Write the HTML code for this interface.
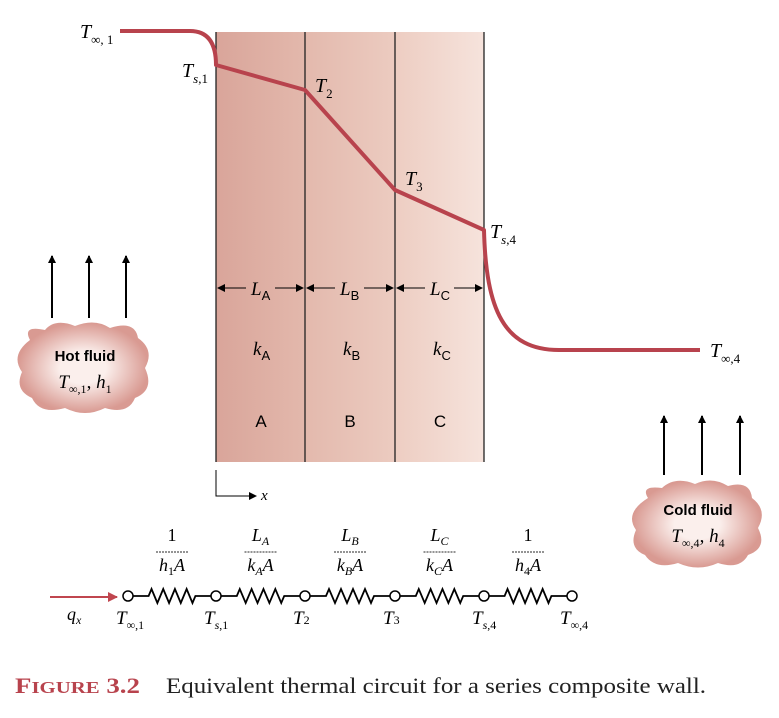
<!DOCTYPE html>
<html><head><meta charset="utf-8">
<style>
html,body{margin:0;padding:0;background:#fff;}
svg{display:block;}
.it{font-family:"Liberation Serif",serif;font-style:italic;}
.rm{font-family:"Liberation Serif",serif;}
.sn{font-family:"Liberation Sans",sans-serif;}
</style></head>
<body>
<svg id="fig" width="779" height="718" viewBox="0 0 779 718">
<defs>
<linearGradient id="gA" x1="0" x2="1"><stop offset="0" stop-color="#d9a59a"/><stop offset="1" stop-color="#e3b8ac"/></linearGradient>
<linearGradient id="gB" x1="0" x2="1"><stop offset="0" stop-color="#e3b9ad"/><stop offset="1" stop-color="#eccbc0"/></linearGradient>
<linearGradient id="gC" x1="0" x2="1"><stop offset="0" stop-color="#edcdc2"/><stop offset="1" stop-color="#f6e3dc"/></linearGradient>
<radialGradient id="cl"><stop offset="0.35" stop-color="#fbefec"/><stop offset="1" stop-color="#d99a92"/></radialGradient>
<marker id="ah" markerWidth="8" markerHeight="8" refX="7" refY="4" orient="auto" markerUnits="userSpaceOnUse"><path d="M0,0 L8,4 L0,8 z" fill="#000"/></marker>
<marker id="ahr" markerWidth="10" markerHeight="10" refX="9" refY="5" orient="auto" markerUnits="userSpaceOnUse"><path d="M0,0 L10,5 L0,10 z" fill="#c0464f"/></marker>
</defs>

<g>
<rect x="216" y="32" width="89" height="430" fill="url(#gA)"/>
<rect x="305" y="32" width="90" height="430" fill="url(#gB)"/>
<rect x="395" y="32" width="89" height="430" fill="url(#gC)"/>
<g stroke="#222" stroke-width="1.3">
<line x1="216" y1="32" x2="216" y2="462"/><line x1="305" y1="32" x2="305" y2="462"/>
<line x1="395" y1="32" x2="395" y2="462"/><line x1="484" y1="32" x2="484" y2="462"/>
</g>
</g>

<g stroke="#000" stroke-width="1">
<line x1="246" y1="288" x2="218" y2="288" marker-end="url(#ah)"/><line x1="275" y1="288" x2="303" y2="288" marker-end="url(#ah)"/>
<line x1="335" y1="288" x2="307" y2="288" marker-end="url(#ah)"/><line x1="364" y1="288" x2="393" y2="288" marker-end="url(#ah)"/>
<line x1="425" y1="288" x2="397" y2="288" marker-end="url(#ah)"/><line x1="454" y1="288" x2="482" y2="288" marker-end="url(#ah)"/>
</g>
<g font-size="19">
<text x="251" y="295" class="it">L<tspan class="sn" font-style="normal" font-size="13" dy="5">A</tspan></text>
<text x="340" y="295" class="it">L<tspan class="sn" font-style="normal" font-size="13" dy="5">B</tspan></text>
<text x="430" y="295" class="it">L<tspan class="sn" font-style="normal" font-size="13" dy="5">C</tspan></text>
<text x="253" y="355" class="it">k<tspan class="sn" font-style="normal" font-size="13" dy="5">A</tspan></text>
<text x="343" y="355" class="it">k<tspan class="sn" font-style="normal" font-size="13" dy="5">B</tspan></text>
<text x="433" y="355" class="it">k<tspan class="sn" font-style="normal" font-size="13" dy="5">C</tspan></text>
</g>
<g class="sn" font-size="17" text-anchor="middle">
<text x="261" y="427">A</text>
<text x="350" y="427">B</text>
<text x="440" y="427">C</text>
</g>

<g>
<path d="M216,470 V496 H256" fill="none" stroke="#000" stroke-width="1" marker-end="url(#ah)"/>
<text x="261" y="500" class="it" font-size="15">x</text>
</g>

<path id="profile" d="" fill="none" stroke="#b8434d" stroke-width="4" stroke-linejoin="round"/>

<g font-size="20" class="it">
<text x="80" y="38">T<tspan font-style="normal" font-size="13" dy="6">∞, 1</tspan></text>
<text x="182" y="77">T<tspan font-size="13" dy="6">s</tspan><tspan font-style="normal" font-size="13">,1</tspan></text>
<text x="315" y="92">T<tspan font-style="normal" font-size="13" dy="6">2</tspan></text>
<text x="405" y="185">T<tspan font-style="normal" font-size="13" dy="6">3</tspan></text>
<text x="490" y="238">T<tspan font-size="13" dy="6">s</tspan><tspan font-style="normal" font-size="13">,4</tspan></text>
<text x="710" y="357">T<tspan font-style="normal" font-size="13" dy="6">∞,4</tspan></text>
</g>

<g stroke="#000" stroke-width="2">
<line x1="52" y1="318" x2="52" y2="256" marker-end="url(#ah)"/>
<line x1="89" y1="318" x2="89" y2="256" marker-end="url(#ah)"/>
<line x1="126" y1="318" x2="126" y2="256" marker-end="url(#ah)"/>
</g>
<g stroke="#000" stroke-width="2">
<line x1="664" y1="475" x2="664" y2="416" marker-end="url(#ah)"/>
<line x1="702" y1="475" x2="702" y2="416" marker-end="url(#ah)"/>
<line x1="740" y1="475" x2="740" y2="416" marker-end="url(#ah)"/>
</g>

<g>
<path d="M30,340 Q22,325 45,330 Q55,318 75,326 Q95,318 110,328 Q135,320 138,338 Q155,350 145,368 Q155,390 135,398 Q128,415 105,408 Q85,418 65,408 Q40,415 32,398 Q14,390 22,372 Q10,355 30,340 Z" fill="url(#cl)"/>
<text x="85" y="361" class="sn" font-weight="bold" font-size="15" text-anchor="middle">Hot fluid</text>
<text x="85" y="388" class="it" font-size="19" text-anchor="middle">T<tspan font-style="normal" font-size="12" dy="5">∞,1</tspan><tspan dy="-5" font-style="normal">, </tspan><tspan>h</tspan><tspan font-style="normal" font-size="12" dy="5">1</tspan></text>
</g>
<g>
<path d="M648,498 Q640,485 662,488 Q675,476 695,484 Q712,476 728,486 Q750,480 752,498 Q768,510 758,528 Q768,548 748,555 Q740,570 718,563 Q698,572 678,563 Q655,570 645,555 Q628,548 636,530 Q624,513 648,498 Z" fill="url(#cl)"/>
<text x="698" y="515" class="sn" font-weight="bold" font-size="15" text-anchor="middle">Cold fluid</text>
<text x="698" y="542" class="it" font-size="19" text-anchor="middle">T<tspan font-style="normal" font-size="12" dy="5">∞,4</tspan><tspan dy="-5" font-style="normal">, </tspan><tspan>h</tspan><tspan font-style="normal" font-size="12" dy="5">4</tspan></text>
</g>

<g id="circuit"></g>
<g>
<line x1="50" y1="597" x2="117" y2="597" stroke="#c0464f" stroke-width="2" marker-end="url(#ahr)"/>
<text x="67" y="620" class="it" font-size="18">q<tspan font-size="12" dy="4">x</tspan></text>
</g>

<g font-family="'Liberation Serif',serif" font-size="22">
<text x="15" y="693" fill="#b8434d" font-weight="bold" textLength="125" lengthAdjust="spacingAndGlyphs">F<tspan font-size="17">IGURE</tspan> 3.2</text>
<text x="166" y="693" fill="#222" textLength="540" lengthAdjust="spacingAndGlyphs">Equivalent thermal circuit for a series composite wall.</text>
</g>
</svg>
<script>
// Temperature profile points (x in px along wall, y temperature position)
const profileX = [120, 216, 305, 395, 484, 700];
const profileY = [31, 65, 90, 190, 230, 350];

const p = document.getElementById('profile');
const d = `M${profileX[0]},${profileY[0]} H${profileX[1]-26} Q${profileX[1]},${profileY[0]} ${profileX[1]},${profileY[1]} L${profileX[2]},${profileY[2]} L${profileX[3]},${profileY[3]} L${profileX[4]},${profileY[4]} C${profileX[4]+2},${profileY[5]-40} ${profileX[4]+20},${profileY[5]} ${profileX[4]+75},${profileY[5]} H${profileX[5]}`;
p.setAttribute('d', d);

// Circuit
const nodeX = [128, 216, 305, 395, 484, 572];
const nodeLabels = [['∞,1',''],['s',',1'],['','2'],['','3'],['s',',4'],['∞,4','']];
const resTop = ['1','L','L','L','1'];
const resTopSub = ['','A','B','C',''];
const resBot = [['h','1'],['k','A'],['k','B'],['k','C'],['h','4']];
const NS = 'http://www.w3.org/2000/svg';
const g = document.getElementById('circuit');
const cy = 596;
function mk(tag, attrs){const e=document.createElementNS(NS,tag);for(const k in attrs)e.setAttribute(k,attrs[k]);g.appendChild(e);return e;}
for(let i=0;i<nodeX.length-1;i++){
  const a=nodeX[i]+5,b=nodeX[i+1]-5,len=b-a;
  const s=a+len*0.2,e2=b-len*0.2,n=8,w=(e2-s)/n;
  let pts=`M${a},${cy} H${s}`;
  for(let k=0;k<n;k++){pts+=` L${s+w*(k+0.5)},${cy+(k%2?7:-7)}`;}
  pts+=` L${e2},${cy} H${b}`;
  const r=mk('path',{d:pts,fill:'none',stroke:'#000','stroke-width':1.8});
  
  
  const mx=(nodeX[i]+nodeX[i+1])/2;
  const t=mk('text',{x:mx,y:541,'text-anchor':'middle','font-size':18,'font-family':"'Liberation Serif',serif",'font-style':resTop[i]==='1'?'normal':'italic'});
  t.textContent=resTop[i];
  if(resTopSub[i]){const ts=document.createElementNS(NS,'tspan');ts.setAttribute('font-size','12');ts.setAttribute('dy','4');ts.textContent=resTopSub[i];t.appendChild(ts);}
  
  
  const fl=mk('line',{x1:mx-16,x2:mx+16,y1:552,y2:552,stroke:'#555','stroke-width':1.2,'stroke-dasharray':'2,1'});
  
  
  const bt=mk('text',{x:mx,y:571,'text-anchor':'middle','font-size':18,'font-family':"'Liberation Serif',serif",'font-style':'italic'});
  bt.innerHTML=`${resBot[i][0]}<tspan font-size="12" dy="4" font-style="${/[0-9]/.test(resBot[i][1])?'normal':'italic'}">${resBot[i][1]}</tspan><tspan dy="-4">A</tspan>`;
  
  
}
nodeX.forEach((x,i)=>{
  const c=mk('circle',{cx:x,cy:cy,r:5,fill:'#fff',stroke:'#000','stroke-width':1.5});
  
  
  const t=mk('text',{x:x-12,y:624,'font-size':19,'font-family':"'Liberation Serif',serif",'font-style':'italic'});
  t.innerHTML=`T<tspan font-size="12" dy="5" font-style="${nodeLabels[i][0]==='s'?'italic':'normal'}">${nodeLabels[i][0]}</tspan><tspan font-size="12" font-style="normal">${nodeLabels[i][1]}</tspan>`;
  
  
});
</script>
</body></html>
